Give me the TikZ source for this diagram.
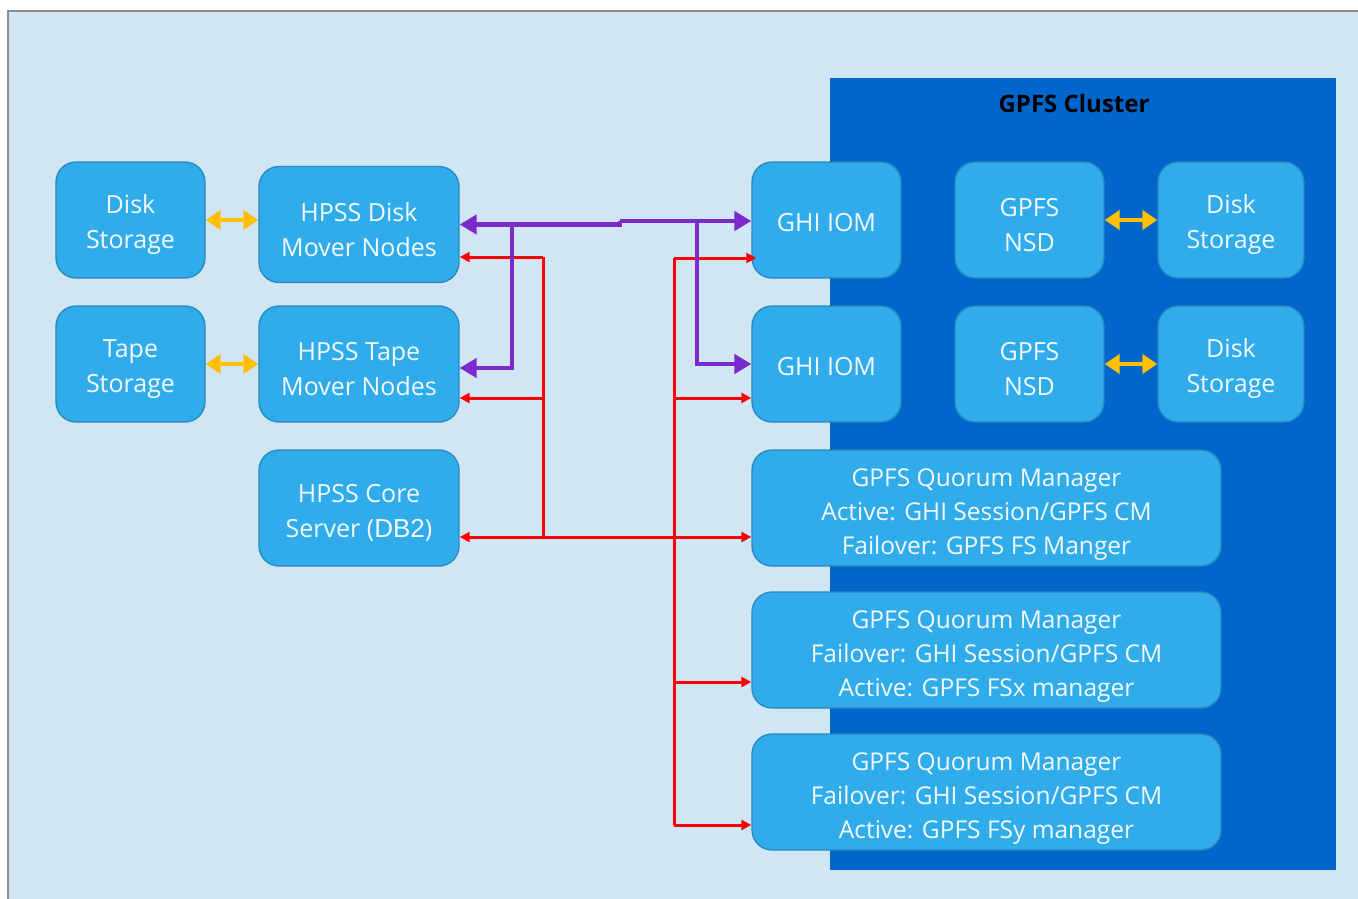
\documentclass[tikz,border=0pt]{standalone}
\usepackage{fontspec}
\setmainfont{Open Sans}
\newfontfamily\dbfont{Liberation Sans}
\usetikzlibrary{arrows.meta,calc}
\definecolor{bgblue}{HTML}{D0E6F4}
\definecolor{nodeblue}{HTML}{30ACEA}
\definecolor{nodeedge}{HTML}{2A88BE}
\definecolor{clusterblue}{HTML}{0066CC}
\definecolor{orangeA}{HTML}{FFC000}
\definecolor{purpleA}{HTML}{7B2BCB}
\definecolor{redA}{HTML}{FF0000}
\definecolor{txtwhite}{HTML}{F2F9FF}
\tikzset{
  box/.style={draw=nodeedge, line width=1.3pt, fill=nodeblue, rounded corners=20pt,
    minimum height=116pt, inner sep=0pt},
  boxtext/.style={align=center, text=txtwhite, inner sep=0pt, yshift=-5pt,
    font=\fontsize{25}{35}\selectfont},
  widetext/.style={boxtext, font=\fontsize{24.5}{34}\selectfont, yshift=-1.5pt},
  txt/.style={label={[boxtext]center:{#1}}},
  wtxt/.style={label={[widetext]center:{#1}}},
  smallbox/.style={box, minimum width=149pt},
  midbox/.style={box, minimum width=200pt},
  widebox/.style={box, minimum width=469pt},
  ol/.style={draw=orangeA, line width=4.5pt, {Triangle[length=15pt,width=19pt]}-{Triangle[length=15pt,width=19pt]}},
  pl/.style={draw=purpleA, line width=4.5pt},
  parr/.style={-{Triangle[length=17pt,width=19pt]}},
  rl/.style={draw=redA, line width=3pt},
  rarr/.style={-{Triangle[length=10pt,width=10pt]}},
}
\begin{document}
\begin{tikzpicture}[x=1pt,y=-1pt]
\useasboundingbox (0,0) rectangle (1358,899);
\fill[white] (0,0) rectangle (1358,899);
\fill[bgblue] (8,11) rectangle (1358,899);
\draw[gray!90, line width=1.2pt] (8,899) -- (8,11) -- (1358,11);
\fill[clusterblue] (830,78) rectangle (1336,870);
\node[font=\fontsize{24}{28}\bfseries\selectfont, text=black] (ctitle) at (1074,103) {GPFS Cluster};

\node[smallbox, txt={Disk\\Storage}] (ds) at (130.5,220) {};
\node[midbox, txt={HPSS Disk\\Mover Nodes}] (hd) at (359,224.5) {};
\node[smallbox, txt={Tape\\Storage}] (ts) at (130.5,364) {};
\node[midbox, txt={HPSS Tape\\Mover Nodes}] (ht) at (359,364) {};
\node[midbox, txt={HPSS Core\\Server ({\dbfont\fontsize{26}{35}\selectfont DB2})}] (hc) at (359,508) {};
\node[smallbox, label={[boxtext,yshift=2.5pt]center:GHI IOM}] (iom1) at (826.5,220) {};
\node[smallbox, label={[boxtext,yshift=2.5pt]center:GHI IOM}] (iom2) at (826.5,364) {};
\node[smallbox, txt={GPFS\\NSD}] (nsd1) at (1029.5,220) {};
\node[smallbox, txt={GPFS\\NSD}] (nsd2) at (1029.5,364) {};
\node[box, minimum width=146pt, txt={Disk\\Storage}] (dr1) at (1231,220) {};
\node[box, minimum width=146pt, txt={Disk\\Storage}] (dr2) at (1231,364) {};
\node[widebox, wtxt={GPFS Quorum Manager\\Active: GHI Session/GPFS CM\\Failover: GPFS FS Manger}] (q1) at (986.5,508) {};
\node[widebox, wtxt={GPFS Quorum Manager\\Failover: GHI Session/GPFS CM\\Active: GPFS FSx manager}] (q2) at (986.5,650) {};
\node[widebox, wtxt={GPFS Quorum Manager\\Failover: GHI Session/GPFS CM\\Active: GPFS FSy manager}] (q3) at (986.5,792) {};

% orange links
\draw[ol] (ds.east) -- (ds.east -| hd.west);
\draw[ol] (ts.east) -- (ts.east -| ht.west);
\draw[ol] (nsd1.east) -- (nsd1.east -| dr1.west);
\draw[ol] (nsd2.east) -- (nsd2.east -| dr2.west);

% red links
\coordinate (ra) at (543,257);
\coordinate (rb) at (543,398);
\coordinate (rc) at (543,537);
\coordinate (rd) at (674,258);
\coordinate (re) at (674,398);
\coordinate (rf) at (674,682);
\coordinate (rg) at (674,825);
\draw[rl,rarr] (ra) -- (ra -| hd.east);
\draw[rl] (ra) -- (rc);
\draw[rl,rarr] (rb) -- (rb -| ht.east);
\draw[rl,{Triangle[length=10pt,width=10pt]}-{Triangle[length=10pt,width=10pt]}] (rc -| hc.east) -- (rc -| q1.west);
\draw[rl,rarr] (rd) -- ($(rd -| iom1.west)+(5,0)$);
\draw[rl] (rd) -- (rg);
\draw[rl,rarr] (re) -- (re -| iom2.west);
\draw[rl,rarr] (rf) -- (rf -| q2.west);
\draw[rl,rarr] (rg) -- (rg -| q3.west);

% purple links
\coordinate (pa) at (620,224.5);
\coordinate (pb) at (512,224.5);
\coordinate (pc) at (697,221);
\draw[pl,{Triangle[length=17pt,width=19pt]}-] (hd.east) -- (pa) -- (620,221);
\draw[pl,parr] (620,221) -- (620,221 -| iom1.west);
\draw[pl,parr] (pb) |- ($(ht.east)+(0,4)$);
\draw[pl,parr] (pc) |- (iom2.west);
\end{tikzpicture}
\end{document}
